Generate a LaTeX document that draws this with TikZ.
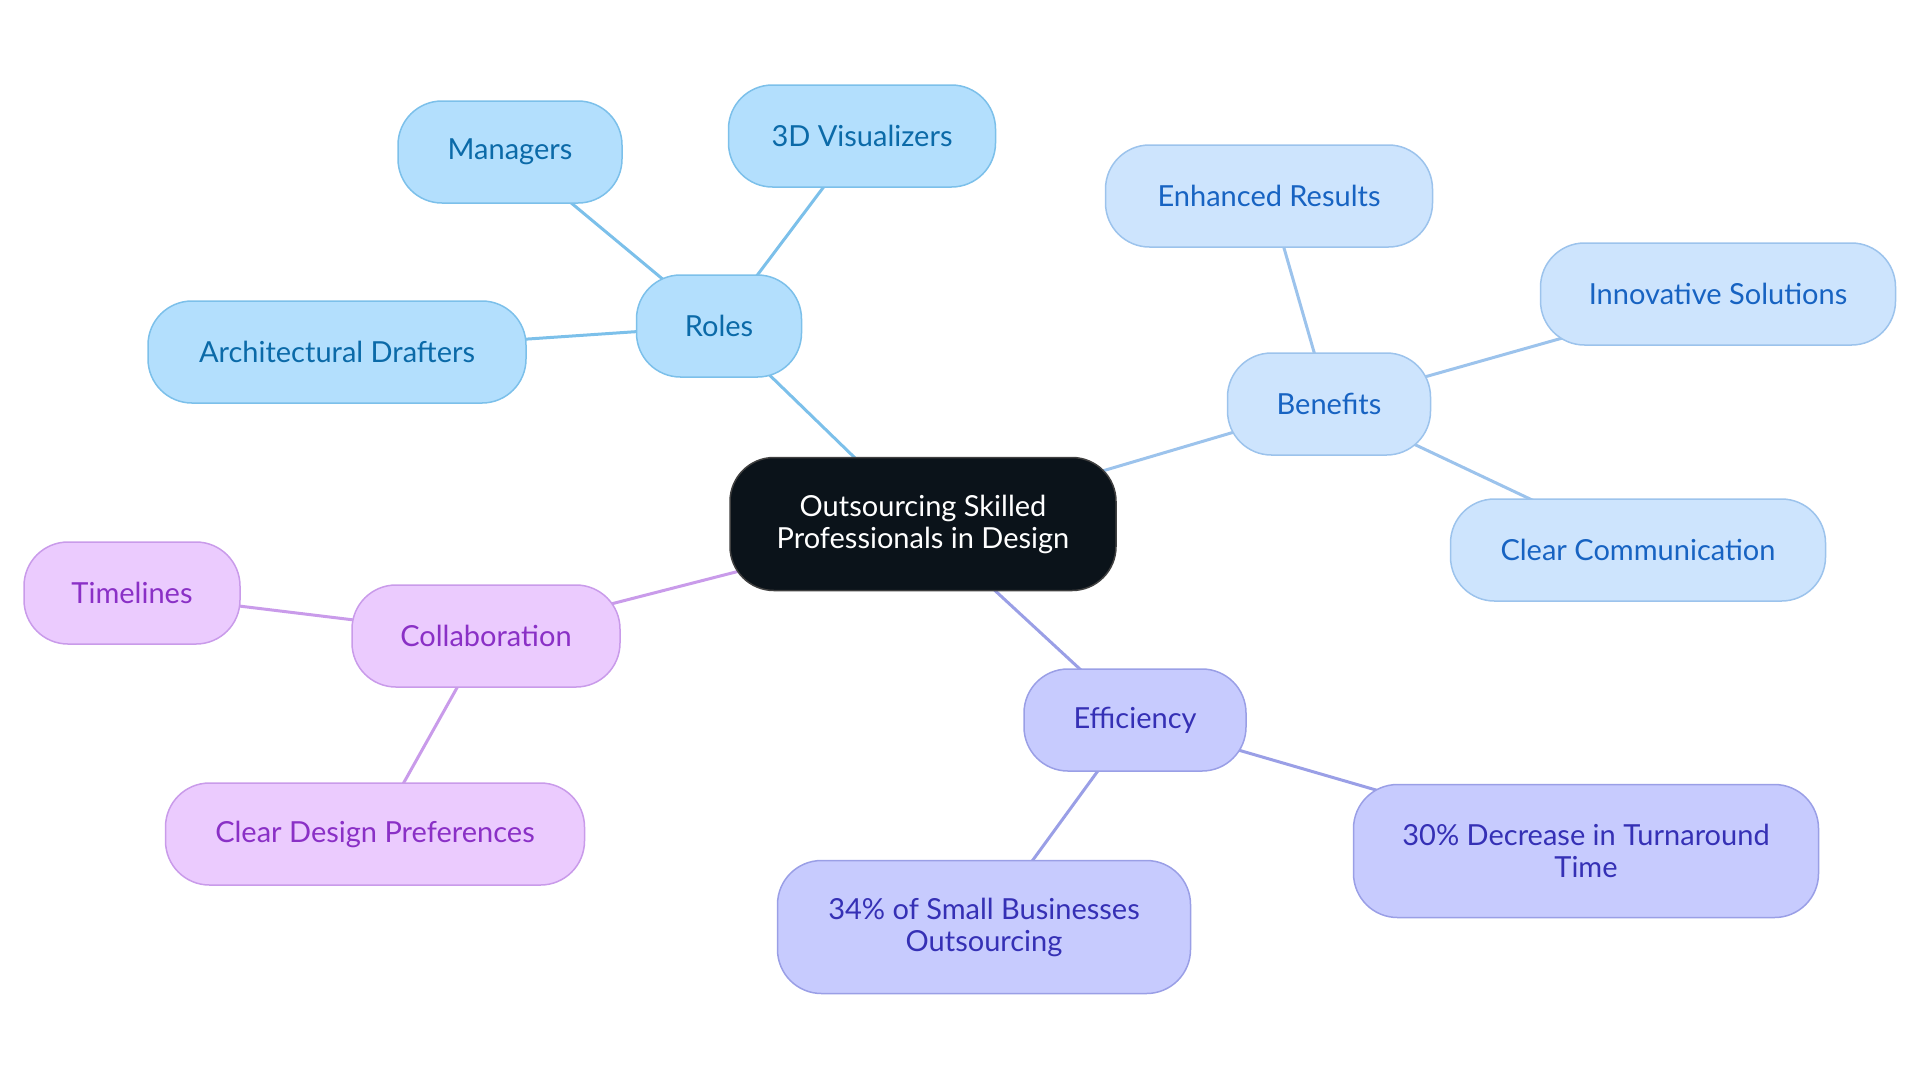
\documentclass[tikz,border=0pt]{standalone}
\usepackage{fontspec}
\setmainfont{Lato}
\usetikzlibrary{backgrounds}

\definecolor{rootfill}{HTML}{0B131A}
\definecolor{rolesfill}{HTML}{B3DFFD}
\definecolor{rolesline}{HTML}{7CC0EA}
\definecolor{rolestext}{HTML}{0B6AA8}
\definecolor{benfill}{HTML}{CDE4FD}
\definecolor{benline}{HTML}{9CC3EC}
\definecolor{bentext}{HTML}{1763C2}
\definecolor{efffill}{HTML}{C7CBFE}
\definecolor{effline}{HTML}{9A9FE6}
\definecolor{efftext}{HTML}{3530B5}
\definecolor{colfill}{HTML}{EBCBFE}
\definecolor{colline}{HTML}{C99BEA}
\definecolor{coltext}{HTML}{8A30C6}

\tikzset{
  mmnode/.style={rounded corners=22pt, minimum height=51pt, align=center,
    line width=0.75pt, inner sep=2pt,
    font=\fontsize{14.5}{16}\selectfont},
  rootnode/.style={mmnode, fill=rootfill, draw=black!75, text=white, minimum height=66.5pt},
  roles/.style={mmnode, fill=rolesfill, draw=rolesline, text=rolestext},
  ben/.style={mmnode, fill=benfill, draw=benline, text=bentext},
  eff/.style={mmnode, fill=efffill, draw=effline, text=efftext},
  col/.style={mmnode, fill=colfill, draw=colline, text=coltext},
  link/.style={line width=1.5pt}
}

\begin{document}
\begin{tikzpicture}[x=0.5pt, y=-0.5pt]
\useasboundingbox (0,0) rectangle (1920,1083);

% root
\node[rootnode, minimum width=193pt] (root) at (923,524) {Outsourcing Skilled\\Professionals in Design};

% roles
\node[roles, minimum width=82.5pt] (roles) at (719,326) {Roles};
\node[roles, minimum width=112pt] (managers) at (510,152) {Managers};
\node[roles, minimum width=133.5pt] (viz) at (862,136) {3D Visualizers};
\node[roles, minimum width=189pt] (drafters) at (337,352) {Architectural Drafters};

% benefits
\node[ben, minimum width=101.5pt] (benefits) at (1329,404) {Benefits};
\node[ben, minimum width=163.5pt] (results) at (1269,196) {Enhanced Results};
\node[ben, minimum width=177.5pt] (innov) at (1718,294) {Innovative Solutions};
\node[ben, minimum width=187.5pt] (comm) at (1638,550) {Clear Communication};

% efficiency
\node[eff, minimum width=111pt] (efficiency) at (1135,720) {Efficiency};
\node[eff, minimum width=232.5pt, minimum height=66.5pt] (decrease) at (1586,851) {30\% Decrease in Turnaround\\Time};
\node[eff, minimum width=206.5pt, minimum height=66.5pt] (smallbiz) at (984,927) {34\% of Small Businesses\\Outsourcing};

% collaboration
\node[col, minimum width=134pt] (collab) at (486,636) {Collaboration};
\node[col, minimum width=108pt] (timelines) at (132,593) {Timelines};
\node[col, minimum width=209.5pt] (prefs) at (375,834) {Clear Design Preferences};

\begin{scope}[on background layer]
\draw[link, rolesline] (root.center) -- (roles.center);
\draw[link, rolesline] (roles.center) -- (managers.center);
\draw[link, rolesline] (roles.center) -- (viz.center);
\draw[link, rolesline] (roles.center) -- (drafters.center);
\draw[link, benline] (root.center) -- (benefits.center);
\draw[link, benline] (benefits.center) -- (results.center);
\draw[link, benline] (benefits.center) -- (innov.center);
\draw[link, benline] (benefits.center) -- (comm.center);
\draw[link, effline] (root.center) -- (efficiency.center);
\draw[link, effline] (efficiency.center) -- (decrease.center);
\draw[link, effline] (efficiency.center) -- (smallbiz.center);
\draw[link, colline] (root.center) -- (collab.center);
\draw[link, colline] (collab.center) -- (timelines.center);
\draw[link, colline] (collab.center) -- (prefs.center);
\end{scope}
\end{tikzpicture}
\end{document}
